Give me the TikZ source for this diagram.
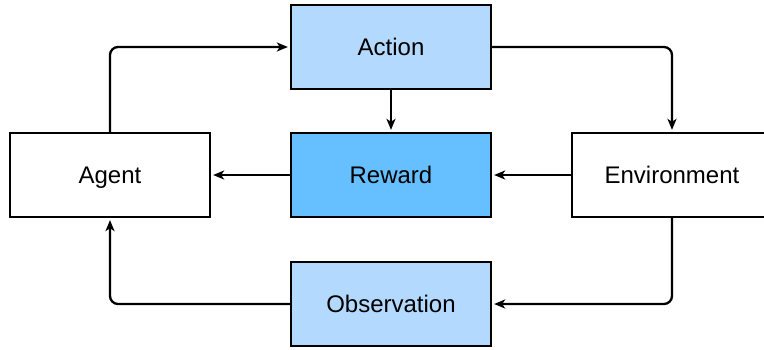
\documentclass[tikz,border=0pt]{standalone}
\usepackage{fontspec}
\setmainfont{Liberation Sans}
\usetikzlibrary{arrows.meta}
\definecolor{lightblue}{RGB}{179,217,255}
\definecolor{midblue}{RGB}{102,191,255}
\begin{document}
\begin{tikzpicture}[x=1pt,y=-1pt,
  box/.style={draw, line width=2.3pt, minimum width=200pt, minimum height=84pt,
    inner sep=0pt, text height=17.2pt, text depth=0pt, font=\fontsize{24}{28}\selectfont},
  arr/.style={line width=2.3pt, -{Stealth[length=11pt,width=9pt,inset=3pt]}, shorten >=2pt, rounded corners=8pt}]
\useasboundingbox (0,0) rectangle (764,349);
\node[box, fill=lightblue] (action) at (391,47) {Action};
\node[box, fill=midblue] (reward) at (391,175) {Reward};
\node[box, fill=lightblue] (obs) at (391,304) {Observation};
\node[box, fill=white] (agent) at (110,175) {Agent};
\node[box, fill=white] (env) at (672,175) {Environment};
\draw[arr] (agent.north) |- (action.west);
\draw[arr] (action.east) -| (env.north);
\draw[arr] (action.south) -- (reward.north);
\draw[arr] (env.west) -- (reward.east);
\draw[arr] (reward.west) -- (agent.east);
\draw[arr] (env.south) |- (obs.east);
\draw[arr] (obs.west) -| (agent.south);
\end{tikzpicture}
\end{document}
